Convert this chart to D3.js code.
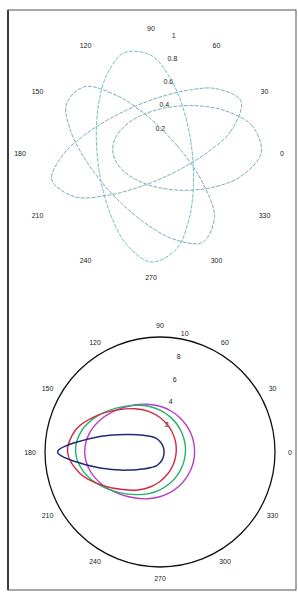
<!DOCTYPE html>
<html><head><meta charset="utf-8">
<script src="https://cdn.jsdelivr.net/npm/d3@7"></script>
<style>body{margin:0;background:#fff}</style>
</head><body>
<svg id="chart" width="298" height="593"></svg>
<script>
// ---------- data ----------
const sampleAngles = [0,15,30,45,60,75,90,105,120,135,150,165,180,195,210,225,240,255,270,285,300,315,330,345];
const angleTicks = [0,30,60,90,120,150,180,210,240,270,300,330];

// top panel: four lobes (r in 0..1)
const topRadialTicks = [0.2,0.4,0.6,0.8,1];
const lobeLong  = [0.474,0.703,0.888,0.779,0.618,0.512,0.452,0.425,0.422,0.444,0.496,0.590,0.740,0.878,0.750,0.508,0.366,0.292,0.254,0.237,0.236,0.250,0.283,0.348];
const lobeRight = [0.941,0.896,0.726,0.570,0.463,0.395,0.354,0.331,0.322,0.322,0.328,0.332,0.325,0.307,0.285,0.269,0.261,0.264,0.279,0.309,0.362,0.451,0.593,0.789];
const lobeTall  = [0.353,0.353,0.375,0.423,0.510,0.654,0.835,0.887,0.763,0.627,0.536,0.484,0.461,0.464,0.493,0.553,0.657,0.809,0.932,0.848,0.651,0.506,0.420,0.373];
const lobeDiag  = [0.274,0.233,0.213,0.208,0.216,0.240,0.289,0.381,0.560,0.802,0.835,0.709,0.596,0.526,0.490,0.482,0.500,0.547,0.634,0.764,0.882,0.767,0.510,0.354];

// bottom panel: four curves (r in 0..10)
const bottomRadialTicks = [2,4,6,8,10];
const curveBlue    = [0.35,0.36,0.39,0.44,0.54,0.69,0.92,1.23,1.55,2.05,3.05,5.30,8.90,5.40,3.15,2.10,1.55,1.25,0.94,0.70,0.55,0.45,0.39,0.36];
const curveRed     = [1.41,1.46,1.58,1.77,2.06,2.47,3.00,3.64,4.34,5.18,6.34,7.57,8.04,7.20,5.80,4.62,3.81,3.13,2.56,2.12,1.81,1.60,1.47,1.41];
const curveGreen   = [2.21,2.27,2.39,2.58,2.86,3.21,3.64,4.14,4.68,5.40,6.27,7.07,7.34,6.84,5.91,4.99,4.28,3.75,3.29,2.91,2.62,2.41,2.28,2.21];
const curveMagenta = [3.01,3.04,3.13,3.26,3.45,3.69,3.98,4.30,4.70,5.22,5.83,6.35,6.55,6.30,5.75,5.13,4.60,4.21,3.89,3.61,3.39,3.21,3.09,3.03];

// ---------- drawing ----------
const svg = d3.select('#chart');
const font = '"Liberation Sans", Arial, sans-serif';

// frame of the scanned figure
svg.append('rect').attr('x',8).attr('y',10).attr('width',288).attr('height',580)
  .attr('fill','none').attr('stroke','#555').attr('stroke-width',1);
svg.append('line').attr('x1',8).attr('x2',8).attr('y1',10).attr('y2',590)
  .attr('stroke','#222').attr('stroke-width',1.6);

function toRad(deg){ return deg*Math.PI/180; }

function panel(opt){
  const g = svg.append('g').attr('transform',`translate(${opt.cx},${opt.cy})`);
  const r = d3.scaleLinear().domain([0,opt.rmax]).range([0,opt.R]);
  const ang = d3.scaleLinear().domain([0,360]).range([Math.PI/2, Math.PI/2 - 2*Math.PI]); // math degrees -> d3 radial angle

  if(opt.outerCircle){
    g.append('circle').attr('r',r(opt.rmax)).attr('fill','none')
      .attr('stroke','#111').attr('stroke-width',1.3);
  }

  // angle labels
  g.selectAll('text.ang').data(angleTicks).join('text')
    .attr('class','ang')
    .attr('x',d=>Math.cos(toRad(d))*r(opt.rmax)*opt.labelKx)
    .attr('y',d=>-Math.sin(toRad(d))*r(opt.rmax)*opt.labelKy)
    .attr('text-anchor','middle').attr('dominant-baseline','central')
    .attr('font-family',font).attr('font-size',7).attr('fill','#222')
    .text(d=>d);

  // radial labels along ~80 deg
  g.selectAll('text.rad').data(opt.rticks).join('text')
    .attr('class','rad')
    .attr('x',d=>Math.cos(toRad(80))*(r(d)+opt.rOff))
    .attr('y',d=>-Math.sin(toRad(80))*(r(d)+opt.rOff))
    .attr('text-anchor','start').attr('dominant-baseline','central')
    .attr('font-family',font).attr('font-size',7).attr('fill','#222')
    .text(d=>d);

  const line = d3.lineRadial()
    .angle(d=>ang(d.a))
    .radius(d=>r(d.r))
    .curve(d3.curveCatmullRomClosed.alpha(opt.alpha));

  opt.series.forEach(s=>{
    const pts = sampleAngles.map((a,i)=>({a:a, r:s.values[i]}));
    g.append('path').attr('d',line(pts))
      .attr('fill','none').attr('stroke',s.color)
      .attr('stroke-width',s.width)
      .attr('stroke-dasharray',s.dash||null);
  });
}

panel({
  cx:151, cy:153, R:117, rmax:1, labelKx:1.12, labelKy:1.06, rOff:2, alpha:0.5,
  rticks:topRadialTicks, outerCircle:false,
  series:[
    {values:lobeLong,  color:'#7aaeb5', width:1, dash:'4,1.3'},
    {values:lobeRight, color:'#7aaeb5', width:1, dash:'4,1.3'},
    {values:lobeTall,  color:'#6cbfca', width:1, dash:'4,1.3'},
    {values:lobeDiag,  color:'#7aaeb5', width:1, dash:'4,1.3'}
  ]
});

panel({
  cx:160, cy:452, R:115, rmax:10, labelKx:1.13, labelKy:1.1, rOff:5, alpha:1,
  rticks:bottomRadialTicks, outerCircle:true,
  series:[
    {values:curveMagenta, color:'#b43ec4', width:1.4},
    {values:curveGreen,   color:'#23b266', width:1.4},
    {values:curveRed,     color:'#cf2a40', width:1.4},
    {values:curveBlue,    color:'#232a78', width:1.5}
  ]
});
</script>
</body></html>
